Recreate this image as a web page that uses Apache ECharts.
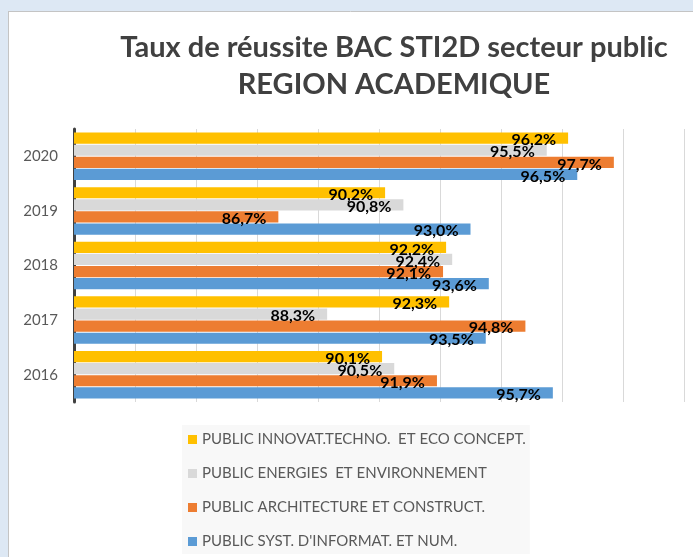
<!DOCTYPE html>
<html>
<head>
<meta charset="utf-8">
<script src="https://cdn.jsdelivr.net/npm/echarts@6/dist/echarts.min.js"></script>
<style>
html,body{margin:0;padding:0;background:#fff;}
#chart{width:693px;height:557px;}
</style>
</head>
<body>
<div id="chart"></div>
<script>
var categories = ['2016', '2017', '2018', '2019', '2020'];
var seriesNames = [
  'PUBLIC INNOVAT.TECHNO.  ET ECO CONCEPT.',
  'PUBLIC ENERGIES  ET ENVIRONNEMENT',
  'PUBLIC ARCHITECTURE ET CONSTRUCT.',
  "PUBLIC SYST. D'INFORMAT. ET NUM."
];
var innovat = [90.1, 92.3, 92.2, 90.2, 96.2];
var energies = [90.5, 88.3, 92.4, 90.8, 95.5];
var architecture = [91.9, 94.8, 92.1, 86.7, 97.7];
var systInfo = [95.7, 93.5, 93.6, 93.0, 96.5];
var colors = ['#FFC000', '#D9D9D9', '#ED7D31', '#5B9BD5'];
var titleText = 'Taux de réussite BAC STI2D secteur public\nREGION ACADEMIQUE';

var chart = echarts.init(document.getElementById('chart'));
var valuesList = [innovat, energies, architecture, systInfo];

function makeSeries(i) {
  return {
    name: seriesNames[i],
    type: 'bar',
    data: valuesList[i],
    barGap: '8%',
    barCategoryGap: '13%',
    itemStyle: { color: colors[i] },
    label: {
      show: true,
      position: 'insideRight',
      distance: 12,
      offset: [0, 2],
      color: '#000',
      fontWeight: 'bold',
      fontSize: 16,
      fontFamily: 'Lato',
      formatter: function (p) { return p.value.toFixed(1).replace('.', ',') + '%'; }
    },
    emphasis: { disabled: true }
  };
}

var series = [0, 1, 2, 3].map(makeSeries);

chart.setOption({
  animation: false,
  backgroundColor: '#fff',
  title: {
    text: titleText,
    left: 389,
    top: 24,
    textAlign: 'center',
    textStyle: {
      fontFamily: 'Lato',
      fontWeight: 'bold',
      fontSize: 29,
      lineHeight: 37,
      color: '#404040'
    }
  },
  graphic: [
    { type: 'rect', shape: { x: 0, y: 0, width: 693, height: 11 }, style: { fill: '#dde8f4' }, silent: true },
    { type: 'rect', shape: { x: 0, y: 0, width: 8, height: 557 }, style: { fill: '#dde8f4' }, silent: true },
    { type: 'line', shape: { x1: 8.5, y1: 11, x2: 8.5, y2: 557 }, style: { stroke: '#c4c4c4', lineWidth: 1 }, silent: true },
    { type: 'line', shape: { x1: 8, y1: 11.5, x2: 693, y2: 11.5 }, style: { stroke: '#c4c4c4', lineWidth: 1 }, silent: true }
  ],
  legend: {
    data: seriesNames,
    orient: 'vertical',
    left: 182,
    top: 425,
    itemGap: 19,
    itemWidth: 9,
    itemHeight: 9,
    icon: 'rect',
    padding: [7, 4, 5, 6],
    backgroundColor: '#f8f8f8',
    selectedMode: false,
    textStyle: { fontFamily: 'Lato', fontSize: 15, color: '#595959' }
  },
  grid: { left: 74, right: 9, top: 129, bottom: 155, containLabel: false },
  xAxis: {
    type: 'value',
    min: 80,
    max: 100,
    interval: 2,
    axisLabel: { show: false },
    axisLine: { show: false },
    axisTick: { show: false },
    splitLine: { show: true, lineStyle: { color: '#d9d9d9', width: 1 } }
  },
  yAxis: {
    type: 'category',
    data: categories,
    axisLine: { show: true, lineStyle: { color: '#404040', width: 3 } },
    axisTick: { show: false },
    axisLabel: { fontFamily: 'Lato', fontSize: 15, color: '#595959', margin: 16 }
  },
  series: series
});
</script>
</body>
</html>
